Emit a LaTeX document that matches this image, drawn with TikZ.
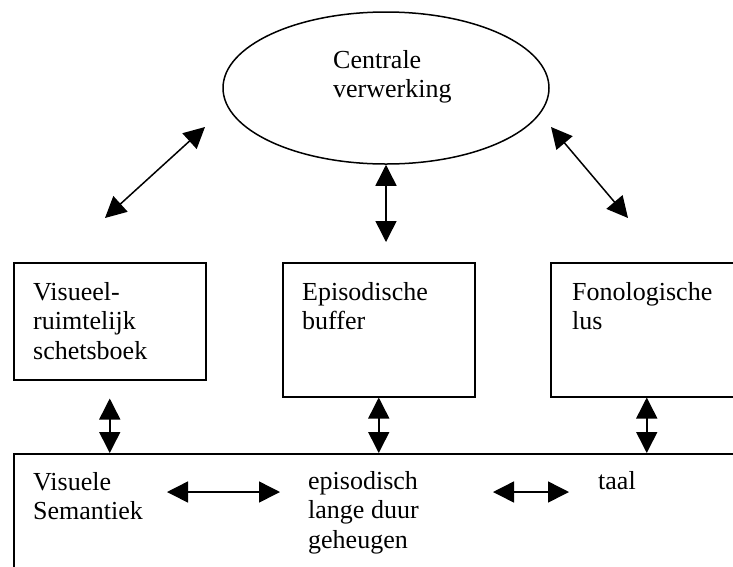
\documentclass[tikz,border=0pt]{standalone}
\usepackage{fontspec}
\setmainfont{Liberation Serif}
\usetikzlibrary{shapes.geometric,arrows.meta,positioning}
\tikzset{
  blok/.style={draw,line width=1.5pt,inner sep=0pt,anchor=north west},
  tekst/.style={inner sep=0pt,anchor=north west,align=left,font=\fontsize{26}{29.5}\selectfont},
  pijl/.style={{Triangle[length=21pt,width=21pt]}-{Triangle[length=21pt,width=21pt]},line width=1.5pt},
}
\begin{document}
\begin{tikzpicture}[x=1pt,y=-1pt]
\clip (0,0) rectangle (733,566);
\node[draw,ellipse,line width=1.5pt,minimum width=326pt,minimum height=152pt] (cv) at (386,88) {};
\node[tekst] (cvt) at (333,50) {Centrale\\verwerking};
% vakken
\node[blok,minimum width=192pt,minimum height=117pt] (vrs) at (13,262) {};
\node[blok,minimum width=192pt,minimum height=134pt] (eb) at (282,262) {};
\node[blok,minimum width=192pt,minimum height=134pt] (fl) at (550,262) {};
\node[blok,minimum width=740pt,minimum height=140pt] (ltm) at (13,453) {};
\node[tekst] (vrst) at (33,282) {Visueel-\\ruimtelijk\\schetsboek};
\node[tekst] (ebt) at (302,282) {Episodische\\buffer};
\node[tekst] (flt) at (572,282) {Fonologische\\lus};
\node[tekst] (vst) at (33,472) {Visuele\\Semantiek};
\node[tekst] (eldt) at (308,471) {episodisch\\lange duur\\geheugen};
\node[tekst] (tlt) at (598,471) {taal};
% vrije eindpunten
\coordinate (l1) at (205,127);
\coordinate (l2) at (105,218);
\coordinate (r1) at (551,127);
\coordinate (r2) at (628,218);
\coordinate (m2) at (386,242);
\coordinate (h1) at (167,492);
\coordinate (h2) at (280,492);
\coordinate (h3) at (493,492);
\coordinate (h4) at (569,492);
% pijlen
\draw[pijl] (l1) -- (l2);
\draw[pijl] (r1) -- (r2);
\draw[pijl] (cv.south) -- (m2);
\draw[pijl] ([yshift=-18pt]vrs.south) -- (vrs.south |- ltm.north);
\draw[pijl] (eb.south) -- (eb.south |- ltm.north);
\draw[pijl] (fl.south) -- (fl.south |- ltm.north);
\draw[pijl] (h1) -- (h2);
\draw[pijl] (h3) -- (h4);
\end{tikzpicture}
\end{document}
